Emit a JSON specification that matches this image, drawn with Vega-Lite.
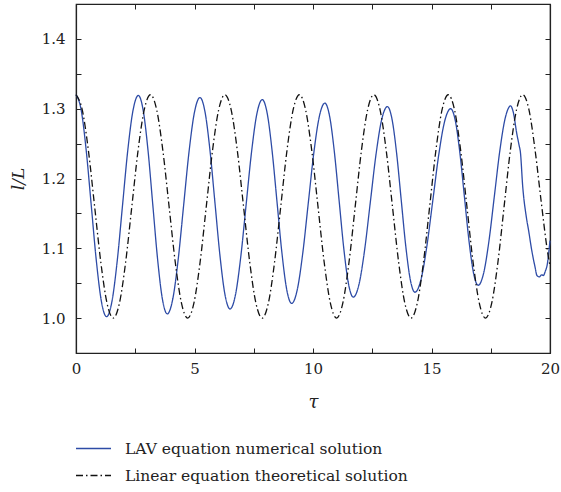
{
  "$schema": "https://vega.github.io/schema/vega-lite/v6.json",
  "width": 474,
  "height": 349,
  "autosize": {"type": "none"},
  "padding": {"left": 76, "top": 4, "right": 11, "bottom": 139},
  "background": "white",
  "config": {
    "font": "DejaVu Serif",
    "view": {"stroke": "#222", "strokeWidth": 1.2},
    "axis": {
      "grid": false,
      "domainColor": "#222",
      "domainWidth": 1.2,
      "tickColor": "#222",
      "tickWidth": 1,
      "tickSize": -5,
      "labelFont": "DejaVu Serif",
      "labelFontSize": 15,
      "labelColor": "#222",
      "titleFont": "DejaVu Serif",
      "titleFontWeight": "normal",
      "titleFontStyle": "italic",
      "titleColor": "#222"
    },
    "legend": {"labelFont": "DejaVu Serif"}
  },
  "data": {
    "values": [
      {"s": "LAV", "t": 0, "v": 1.32},
      {"s": "LAV", "t": 0.215, "v": 1.2987},
      {"s": "LAV", "t": 0.43, "v": 1.2405},
      {"s": "LAV", "t": 0.645, "v": 1.161},
      {"s": "LAV", "t": 0.86, "v": 1.0815},
      {"s": "LAV", "t": 1.075, "v": 1.0233},
      {"s": "LAV", "t": 1.29, "v": 1.002},
      {"s": "LAV", "t": 1.513, "v": 1.0232},
      {"s": "LAV", "t": 1.737, "v": 1.0812},
      {"s": "LAV", "t": 1.96, "v": 1.1605},
      {"s": "LAV", "t": 2.183, "v": 1.2398},
      {"s": "LAV", "t": 2.407, "v": 1.2978},
      {"s": "LAV", "t": 2.63, "v": 1.319},
      {"s": "LAV", "t": 2.833, "v": 1.298},
      {"s": "LAV", "t": 3.037, "v": 1.2408},
      {"s": "LAV", "t": 3.24, "v": 1.1625},
      {"s": "LAV", "t": 3.443, "v": 1.0843},
      {"s": "LAV", "t": 3.647, "v": 1.027},
      {"s": "LAV", "t": 3.85, "v": 1.006},
      {"s": "LAV", "t": 4.08, "v": 1.0268},
      {"s": "LAV", "t": 4.31, "v": 1.0835},
      {"s": "LAV", "t": 4.54, "v": 1.161},
      {"s": "LAV", "t": 4.77, "v": 1.2385},
      {"s": "LAV", "t": 5.0, "v": 1.2952},
      {"s": "LAV", "t": 5.23, "v": 1.316},
      {"s": "LAV", "t": 5.442, "v": 1.2957},
      {"s": "LAV", "t": 5.653, "v": 1.2403},
      {"s": "LAV", "t": 5.865, "v": 1.1645},
      {"s": "LAV", "t": 6.077, "v": 1.0887},
      {"s": "LAV", "t": 6.288, "v": 1.0333},
      {"s": "LAV", "t": 6.5, "v": 1.013},
      {"s": "LAV", "t": 6.727, "v": 1.0331},
      {"s": "LAV", "t": 6.953, "v": 1.088},
      {"s": "LAV", "t": 7.18, "v": 1.163},
      {"s": "LAV", "t": 7.407, "v": 1.238},
      {"s": "LAV", "t": 7.633, "v": 1.2929},
      {"s": "LAV", "t": 7.86, "v": 1.313},
      {"s": "LAV", "t": 8.067, "v": 1.2934},
      {"s": "LAV", "t": 8.273, "v": 1.24},
      {"s": "LAV", "t": 8.48, "v": 1.167},
      {"s": "LAV", "t": 8.687, "v": 1.094},
      {"s": "LAV", "t": 8.893, "v": 1.0406},
      {"s": "LAV", "t": 9.1, "v": 1.021},
      {"s": "LAV", "t": 9.333, "v": 1.0402},
      {"s": "LAV", "t": 9.567, "v": 1.0927},
      {"s": "LAV", "t": 9.8, "v": 1.1645},
      {"s": "LAV", "t": 10.033, "v": 1.2363},
      {"s": "LAV", "t": 10.267, "v": 1.2888},
      {"s": "LAV", "t": 10.5, "v": 1.308},
      {"s": "LAV", "t": 10.7, "v": 1.2894},
      {"s": "LAV", "t": 10.9, "v": 1.2385},
      {"s": "LAV", "t": 11.1, "v": 1.169},
      {"s": "LAV", "t": 11.3, "v": 1.0995},
      {"s": "LAV", "t": 11.5, "v": 1.0486},
      {"s": "LAV", "t": 11.7, "v": 1.03},
      {"s": "LAV", "t": 11.94, "v": 1.0483},
      {"s": "LAV", "t": 12.18, "v": 1.0982},
      {"s": "LAV", "t": 12.42, "v": 1.1665},
      {"s": "LAV", "t": 12.66, "v": 1.2348},
      {"s": "LAV", "t": 12.9, "v": 1.2847},
      {"s": "LAV", "t": 13.14, "v": 1.303},
      {"s": "LAV", "t": 13.333, "v": 1.2852},
      {"s": "LAV", "t": 13.527, "v": 1.2365},
      {"s": "LAV", "t": 13.72, "v": 1.17},
      {"s": "LAV", "t": 13.913, "v": 1.1035},
      {"s": "LAV", "t": 14.107, "v": 1.0548},
      {"s": "LAV", "t": 14.3, "v": 1.037},
      {"s": "LAV", "t": 14.552, "v": 1.0546},
      {"s": "LAV", "t": 14.803, "v": 1.1027},
      {"s": "LAV", "t": 15.055, "v": 1.1685},
      {"s": "LAV", "t": 15.307, "v": 1.2343},
      {"s": "LAV", "t": 15.558, "v": 1.2824},
      {"s": "LAV", "t": 15.81, "v": 1.3},
      {"s": "LAV", "t": 16.003, "v": 1.2831},
      {"s": "LAV", "t": 16.197, "v": 1.2368},
      {"s": "LAV", "t": 16.39, "v": 1.1735},
      {"s": "LAV", "t": 16.583, "v": 1.1103},
      {"s": "LAV", "t": 16.777, "v": 1.0639},
      {"s": "LAV", "t": 16.97, "v": 1.047},
      {"s": "LAV", "t": 17.198, "v": 1.0642},
      {"s": "LAV", "t": 17.427, "v": 1.1112},
      {"s": "LAV", "t": 17.655, "v": 1.1755},
      {"s": "LAV", "t": 17.883, "v": 1.2398},
      {"s": "LAV", "t": 18.112, "v": 1.2868},
      {"s": "LAV", "t": 18.34, "v": 1.304},
      {"s": "LAV", "t": 18.45, "v": 1.295},
      {"s": "LAV", "t": 18.6, "v": 1.264},
      {"s": "LAV", "t": 18.7, "v": 1.247},
      {"s": "LAV", "t": 18.75, "v": 1.238},
      {"s": "LAV", "t": 18.85, "v": 1.188},
      {"s": "LAV", "t": 19.0, "v": 1.145},
      {"s": "LAV", "t": 19.1, "v": 1.125},
      {"s": "LAV", "t": 19.23, "v": 1.097},
      {"s": "LAV", "t": 19.37, "v": 1.073},
      {"s": "LAV", "t": 19.45, "v": 1.061},
      {"s": "LAV", "t": 19.55, "v": 1.059},
      {"s": "LAV", "t": 19.65, "v": 1.062},
      {"s": "LAV", "t": 19.72, "v": 1.061},
      {"s": "LAV", "t": 19.8, "v": 1.067},
      {"s": "LAV", "t": 19.89, "v": 1.078},
      {"s": "LAV", "t": 19.95, "v": 1.095},
      {"s": "LAV", "t": 20, "v": 1.111},
      {"s": "Linear", "t": 0, "v": 1.32},
      {"s": "Linear", "t": 0.2618, "v": 1.2986},
      {"s": "Linear", "t": 0.5236, "v": 1.24},
      {"s": "Linear", "t": 0.7854, "v": 1.16},
      {"s": "Linear", "t": 1.0472, "v": 1.08},
      {"s": "Linear", "t": 1.309, "v": 1.0214},
      {"s": "Linear", "t": 1.5708, "v": 1.0},
      {"s": "Linear", "t": 1.8326, "v": 1.0214},
      {"s": "Linear", "t": 2.0944, "v": 1.08},
      {"s": "Linear", "t": 2.3562, "v": 1.16},
      {"s": "Linear", "t": 2.618, "v": 1.24},
      {"s": "Linear", "t": 2.8798, "v": 1.2986},
      {"s": "Linear", "t": 3.1416, "v": 1.32},
      {"s": "Linear", "t": 3.4034, "v": 1.2986},
      {"s": "Linear", "t": 3.6652, "v": 1.24},
      {"s": "Linear", "t": 3.927, "v": 1.16},
      {"s": "Linear", "t": 4.1888, "v": 1.08},
      {"s": "Linear", "t": 4.4506, "v": 1.0214},
      {"s": "Linear", "t": 4.7124, "v": 1.0},
      {"s": "Linear", "t": 4.9742, "v": 1.0214},
      {"s": "Linear", "t": 5.236, "v": 1.08},
      {"s": "Linear", "t": 5.4978, "v": 1.16},
      {"s": "Linear", "t": 5.7596, "v": 1.24},
      {"s": "Linear", "t": 6.0214, "v": 1.2986},
      {"s": "Linear", "t": 6.2832, "v": 1.32},
      {"s": "Linear", "t": 6.545, "v": 1.2986},
      {"s": "Linear", "t": 6.8068, "v": 1.24},
      {"s": "Linear", "t": 7.0686, "v": 1.16},
      {"s": "Linear", "t": 7.3304, "v": 1.08},
      {"s": "Linear", "t": 7.5922, "v": 1.0214},
      {"s": "Linear", "t": 7.854, "v": 1.0},
      {"s": "Linear", "t": 8.1158, "v": 1.0214},
      {"s": "Linear", "t": 8.3776, "v": 1.08},
      {"s": "Linear", "t": 8.6394, "v": 1.16},
      {"s": "Linear", "t": 8.9012, "v": 1.24},
      {"s": "Linear", "t": 9.163, "v": 1.2986},
      {"s": "Linear", "t": 9.4248, "v": 1.32},
      {"s": "Linear", "t": 9.6866, "v": 1.2986},
      {"s": "Linear", "t": 9.9484, "v": 1.24},
      {"s": "Linear", "t": 10.2102, "v": 1.16},
      {"s": "Linear", "t": 10.472, "v": 1.08},
      {"s": "Linear", "t": 10.7338, "v": 1.0214},
      {"s": "Linear", "t": 10.9956, "v": 1.0},
      {"s": "Linear", "t": 11.2574, "v": 1.0214},
      {"s": "Linear", "t": 11.5192, "v": 1.08},
      {"s": "Linear", "t": 11.781, "v": 1.16},
      {"s": "Linear", "t": 12.0428, "v": 1.24},
      {"s": "Linear", "t": 12.3046, "v": 1.2986},
      {"s": "Linear", "t": 12.5664, "v": 1.32},
      {"s": "Linear", "t": 12.8282, "v": 1.2986},
      {"s": "Linear", "t": 13.09, "v": 1.24},
      {"s": "Linear", "t": 13.3518, "v": 1.16},
      {"s": "Linear", "t": 13.6136, "v": 1.08},
      {"s": "Linear", "t": 13.8754, "v": 1.0214},
      {"s": "Linear", "t": 14.1372, "v": 1.0},
      {"s": "Linear", "t": 14.399, "v": 1.0214},
      {"s": "Linear", "t": 14.6608, "v": 1.08},
      {"s": "Linear", "t": 14.9226, "v": 1.16},
      {"s": "Linear", "t": 15.1844, "v": 1.24},
      {"s": "Linear", "t": 15.4462, "v": 1.2986},
      {"s": "Linear", "t": 15.708, "v": 1.32},
      {"s": "Linear", "t": 15.9698, "v": 1.2986},
      {"s": "Linear", "t": 16.2316, "v": 1.24},
      {"s": "Linear", "t": 16.4934, "v": 1.16},
      {"s": "Linear", "t": 16.7552, "v": 1.08},
      {"s": "Linear", "t": 17.017, "v": 1.0214},
      {"s": "Linear", "t": 17.2788, "v": 1.0},
      {"s": "Linear", "t": 17.5406, "v": 1.0214},
      {"s": "Linear", "t": 17.8024, "v": 1.08},
      {"s": "Linear", "t": 18.0642, "v": 1.16},
      {"s": "Linear", "t": 18.326, "v": 1.24},
      {"s": "Linear", "t": 18.5878, "v": 1.2986},
      {"s": "Linear", "t": 18.8496, "v": 1.32},
      {"s": "Linear", "t": 19.1114, "v": 1.2986},
      {"s": "Linear", "t": 19.3732, "v": 1.24},
      {"s": "Linear", "t": 19.635, "v": 1.165},
      {"s": "Linear", "t": 19.8968, "v": 1.095},
      {"s": "Linear", "t": 20, "v": 1.075}
    ]
  },
  "layer": [
    {
      "mark": {"type": "line", "interpolate": "monotone", "strokeWidth": 1.3},
      "encoding": {
        "x": {
          "field": "t", "type": "quantitative",
          "scale": {"domain": [0, 20], "nice": false},
          "axis": {
            "orient": "bottom",
            "values": [0, 2.5, 5, 7.5, 10, 12.5, 15, 17.5, 20],
            "labelExpr": "datum.value % 5 == 0 ? datum.label : ''",
            "labelPadding": 13,
            "labelFlush": false,
            "title": "τ",
            "titleFontSize": 18,
            "titlePadding": 17
          }
        },
        "y": {
          "field": "v", "type": "quantitative",
          "scale": {"domain": [0.95, 1.45], "nice": false, "zero": false},
          "axis": {
            "orient": "left",
            "values": [1.0, 1.05, 1.1, 1.15, 1.2, 1.25, 1.3, 1.35, 1.4],
            "labelExpr": "abs(datum.value * 10 - round(datum.value * 10)) < 0.001 ? format(datum.value, '.1f') : ''",
            "labelPadding": 16,
            "labelFlush": false,
            "title": "l/L",
            "titleFontSize": 17,
            "titlePadding": 14
          }
        },
        "color": {
          "field": "s", "type": "nominal",
          "scale": {"domain": ["LAV", "Linear"], "range": ["#2d4ba6", "#111111"]},
          "legend": {
            "orient": "none", "legendX": -1, "legendY": 426,
            "title": null, "direction": "vertical",
            "symbolType": "stroke", "symbolSize": 1225, "symbolStrokeWidth": 1.3,
            "labelFont": "DejaVu Serif",
            "labelFontSize": 15.5, "labelColor": "#222",
            "labelOffset": 13, "rowPadding": -1, "labelLimit": 400,
            "labelExpr": "datum.label == 'LAV' ? 'LAV equation numerical solution' : 'Linear equation theoretical solution'"
          }
        },
        "strokeDash": {
          "field": "s", "type": "nominal",
          "scale": {"domain": ["LAV", "Linear"], "range": [[1, 0], [7, 3, 1.5, 3]]},
          "legend": {
            "orient": "none", "legendX": -1, "legendY": 426,
            "title": null, "direction": "vertical",
            "symbolType": "stroke", "symbolSize": 1225, "symbolStrokeWidth": 1.3,
            "labelFont": "DejaVu Serif",
            "labelFontSize": 15.5, "labelColor": "#222",
            "labelOffset": 13, "rowPadding": -1, "labelLimit": 400,
            "labelExpr": "datum.label == 'LAV' ? 'LAV equation numerical solution' : 'Linear equation theoretical solution'"
          }
        }
      }
    },
    {
      "mark": {"type": "point", "opacity": 0},
      "encoding": {
        "x": {
          "field": "t", "type": "quantitative",
          "axis": {"orient": "top", "values": [0, 2.5, 5, 7.5, 10, 12.5, 15, 17.5, 20], "labels": false, "title": null}
        },
        "y": {
          "field": "v", "type": "quantitative",
          "axis": {"orient": "right", "values": [1.0, 1.05, 1.1, 1.15, 1.2, 1.25, 1.3, 1.35, 1.4], "labels": false, "title": null}
        }
      }
    }
  ],
  "resolve": {"axis": {"x": "independent", "y": "independent"}}
}
